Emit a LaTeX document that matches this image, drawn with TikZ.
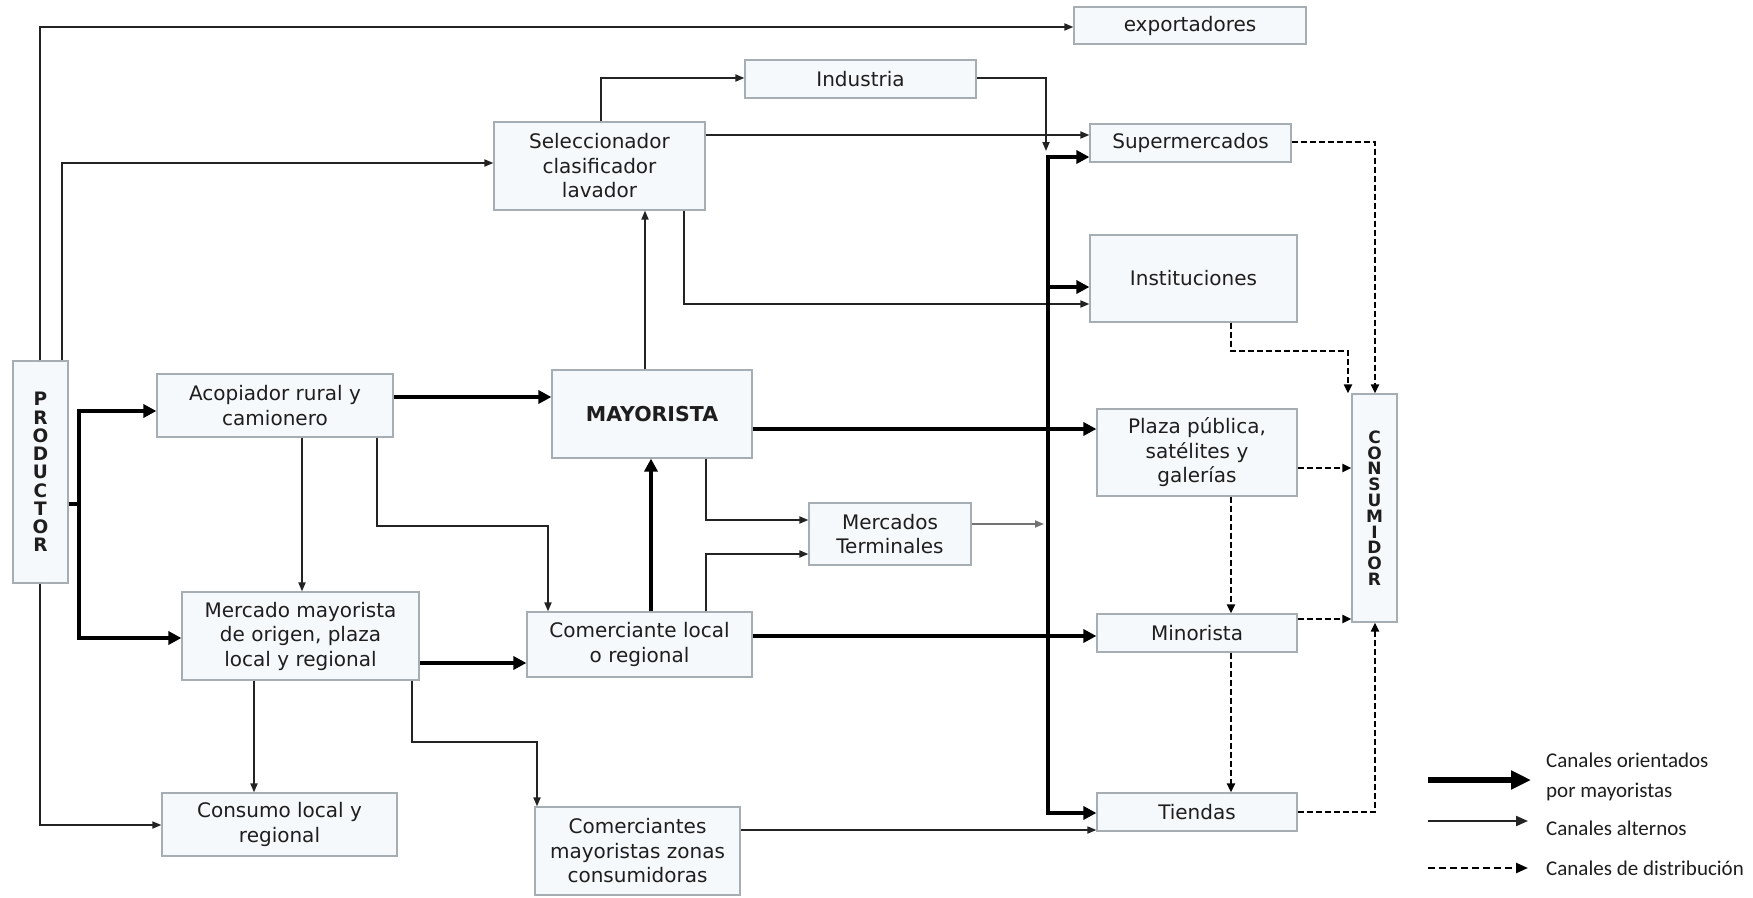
\documentclass[tikz,border=0pt]{standalone}
\usepackage{fontspec}
\setmainfont{DejaVu Sans}
\newfontfamily\legfont{Carlito}
\usetikzlibrary{arrows.meta}
\definecolor{boxline}{RGB}{166,173,179}
\definecolor{boxfill}{RGB}{246,249,251}
\definecolor{txt}{RGB}{30,30,30}
\definecolor{ln}{RGB}{35,35,35}
\definecolor{lnlight}{RGB}{115,115,115}
\tikzset{
 box/.style={draw=boxline, fill=boxfill, line width=1.2pt, inner sep=0pt, align=center, text=txt, font=\fontsize{20}{24.5}\selectfont},
 thinarrow/.style={draw=ln, line width=1.7pt, -{Triangle[length=9pt,width=7pt]}},
 thickarrow/.style={draw=black, line width=4.2pt, -{Triangle[length=13pt,width=13pt]}},
 dasharrow/.style={draw=black, line width=2pt, dash pattern=on 6pt off 3pt, -{Triangle[length=9pt,width=8pt]}},
 legtext/.style={anchor=west, align=left, inner sep=0pt, text=txt, font=\legfont\fontsize{21}{30}\selectfont},
}
\begin{document}
\begin{tikzpicture}[x=1pt,y=-1pt]
\fill[white] (0,0) rectangle (1753,897);
\useasboundingbox (0,0) rectangle (1753,897);

% boxes
\node[box, minimum width=55pt, minimum height=222pt, font=\bfseries\fontsize{18.5}{18.25}\selectfont] (prod) at (40.5,472) {P\\R\\O\\D\\U\\C\\T\\O\\R};
\node[box, minimum width=232pt, minimum height=37pt] (expo) at (1190,25.5) {exportadores};
\node[box, minimum width=231pt, minimum height=38pt] (ind) at (860.5,79) {Industria};
\node[box, minimum width=211pt, minimum height=88pt] (sel) at (599.5,166) {Seleccionador\\clasificador\\lavador};
\node[box, minimum width=201pt, minimum height=38pt] (sup) at (1190.5,143) {Supermercados};
\node[box, minimum width=207pt, minimum height=87pt] (inst) at (1193.5,278.5) {Instituciones};
\node[box, minimum width=236pt, minimum height=63pt] (aco) at (275,405.5) {Acopiador rural y\\camionero};
\node[box, minimum width=200pt, minimum height=88pt, font=\bfseries\fontsize{20.5}{24}\selectfont] (may) at (652,414) {MAYORISTA};
\node[box, minimum width=200pt, minimum height=87pt] (plaza) at (1197,452.5) {Plaza pública,\\satélites y\\galerías};
\node[box, minimum width=45pt, minimum height=228pt, font=\bfseries\fontsize{17}{15.8}\selectfont] (cons) at (1374.5,508) {C\\O\\N\\S\\U\\M\\I\\D\\O\\R};
\node[box, minimum width=162pt, minimum height=62pt] (mt) at (890,534) {Mercados\\Terminales};
\node[box, minimum width=237pt, minimum height=88pt] (mer) at (300.5,636) {Mercado mayorista\\de origen, plaza\\local y regional};
\node[box, minimum width=225pt, minimum height=65pt] (com) at (639.5,644.5) {Comerciante local\\o regional};
\node[box, minimum width=200pt, minimum height=38pt] (min) at (1197,633) {Minorista};
\node[box, minimum width=235pt, minimum height=63pt] (consumo) at (279.5,824.5) {Consumo local y\\regional};
\node[box, minimum width=205pt, minimum height=88pt] (cmz) at (637.5,851) {Comerciantes\\mayoristas zonas\\consumidoras};
\node[box, minimum width=200pt, minimum height=38pt] (tie) at (1197,812) {Tiendas};

% junction coordinates
\coordinate (pj) at (79,504);
\coordinate (bt) at (1048,157);
\coordinate (bi) at (1048,287);
\coordinate (it) at (1046,151);
\coordinate (mtb) at (1044,524);

% producer connectors
\draw[thinarrow] (prod.north -| 40,0) |- (expo.west |- 0,27);
\draw[thinarrow] (prod.north -| 62,0) |- (sel.west |- 0,163);
\draw[thinarrow] (prod.south -| 40,0) |- (consumo.west |- 0,825);
\draw[draw=black, line width=4.2pt] (prod.east |- pj) -- (pj);
\draw[thickarrow] (pj) |- (aco.west |- 0,411);
\draw[thickarrow] (pj) |- (mer.west |- 0,638);

% acopiador
\draw[thickarrow] (aco.east |- 0,397) -- (may.west |- 0,397);
\draw[thinarrow] (aco.south -| 302,0) -- (mer.north -| 302,0);
\draw[thinarrow] (aco.south -| 377,0) -- (377,526) -| (com.north -| 548,0);

% mayorista
\draw[thinarrow] (may.north -| 645,0) -- (sel.south -| 645,0);
\draw[thickarrow] (may.east |- 0,429) -- (plaza.west |- 0,429);
\draw[thinarrow] (may.south -| 706,0) |- (mt.west |- 0,520);

% comerciante
\draw[thinarrow] (com.north -| 706,0) |- (mt.west |- 0,554);
\draw[thickarrow] (com.north -| 651,0) -- (may.south -| 651,0);
\draw[thickarrow] (com.east |- 0,636) -- (min.west |- 0,636);

% mercado mayorista
\draw[thickarrow] (mer.east |- 0,663) -- (com.west |- 0,663);
\draw[thinarrow] (mer.south -| 254,0) -- (consumo.north -| 254,0);
\draw[thinarrow] (mer.south -| 412,0) -- (412,742) -| (cmz.north -| 537,0);
\draw[thinarrow] (cmz.east |- 0,830) -- (tie.west |- 0,830);

% seleccionador
\draw[thinarrow] (sel.north -| 601,0) |- (ind.west |- 0,78);
\draw[thinarrow] (sel.east |- 0,135) -- (sup.west |- 0,135);
\draw[thinarrow] (sel.south -| 684,0) |- (inst.west |- 0,304);

% industria and mercados terminales to bus
\draw[thinarrow] (ind.east |- 0,78) -| (it);
\draw[thinarrow, draw=lnlight] (mt.east |- mtb) -- (mtb);

% thick bus
\draw[draw=black, line width=4.2pt, {Triangle[length=13pt,width=13pt]}-{Triangle[length=13pt,width=13pt]}] (sup.west |- bt) -- (bt) |- (tie.west |- 0,813);
\draw[thickarrow] (bi) -- (inst.west |- bi);

% distribution (dashed)
\draw[dasharrow] (sup.east |- 0,142) -| (cons.north -| 1375,0);
\draw[dasharrow] (inst.south -| 1231,0) -- (1231,351) -| (cons.north -| 1348,0);
\draw[dasharrow] (plaza.east |- 0,468) -- (cons.west |- 0,468);
\draw[dasharrow] (plaza.south -| 1231,0) -- (min.north -| 1231,0);
\draw[dasharrow] (min.east |- 0,619) -- (cons.west |- 0,619);
\draw[dasharrow] (min.south -| 1231,0) -- (tie.north -| 1231,0);
\draw[dasharrow] (tie.east |- 0,812) -| (cons.south -| 1375,0);

% legend
\coordinate (l1a) at (1428,780); \coordinate (l1b) at (1531,780);
\coordinate (l2a) at (1428,821); \coordinate (l2b) at (1528,821);
\coordinate (l3a) at (1428,868); \coordinate (l3b) at (1528,868);
\draw[draw=black, line width=6pt, -{Triangle[length=20pt,width=18pt]}] (l1a) -- (l1b);
\draw[draw=ln, line width=2pt, -{Triangle[length=12pt,width=10pt]}] (l2a) -- (l2b);
\draw[draw=black, line width=2.4pt, dash pattern=on 7pt off 4pt, -{Triangle[length=12pt,width=10pt]}] (l3a) -- (l3b);
\node[legtext] (lt1) at (1546,777) {Canales orientados\\por mayoristas};
\node[legtext] (lt2) at (1546,828) {Canales alternos};
\node[legtext] (lt3) at (1546,868) {Canales de distribución};
\end{tikzpicture}
\end{document}
